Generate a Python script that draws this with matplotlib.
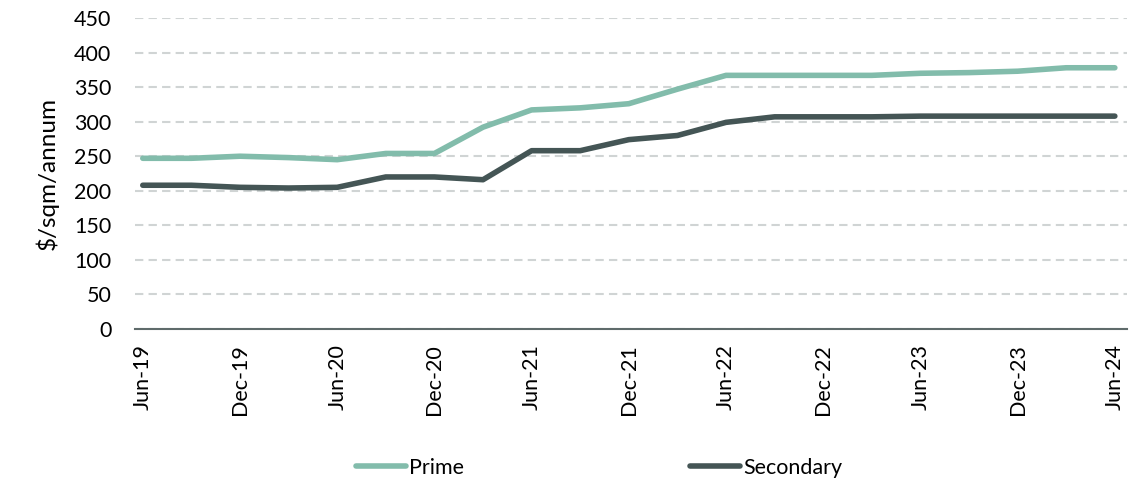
import matplotlib
matplotlib.use("Agg")
import matplotlib.pyplot as plt

plt.rcParams['font.family'] = ['Lato', 'DejaVu Sans']

# quarterly, Jun-19 .. Jun-24
quarters = ['Jun-19', 'Sep-19', 'Dec-19', 'Mar-20', 'Jun-20', 'Sep-20', 'Dec-20',
            'Mar-21', 'Jun-21', 'Sep-21', 'Dec-21', 'Mar-22', 'Jun-22', 'Sep-22',
            'Dec-22', 'Mar-23', 'Jun-23', 'Sep-23', 'Dec-23', 'Mar-24', 'Jun-24']
prime = [247, 247, 250, 248, 245, 254, 254, 292, 317, 320, 326, 347, 367, 367,
         367, 367, 370, 371, 373, 378, 378]
secondary = [208, 208, 205, 204, 205, 220, 220, 216, 258, 258, 274, 280, 299, 307,
             307, 307, 308, 308, 308, 308, 308]
yticks = [0, 50, 100, 150, 200, 250, 300, 350, 400, 450]

x = list(range(len(quarters)))

fig = plt.figure(figsize=(11.48, 4.82), dpi=100)
ax = fig.add_axes([135/1148, 1 - 329/482, (1127-135)/1148, (329-18)/482])

ax.plot(x, prime, color='#82bcab', lw=4, solid_capstyle='round', label='Prime', zorder=3)
ax.plot(x, secondary, color='#445555', lw=4, solid_capstyle='round', label='Secondary', zorder=3)

ax.set_ylim(0, 450)
ax.set_xlim(-0.16, 20.25)
ax.set_yticks(yticks)
ax.set_xticks(x[::2])
ax.set_xticklabels(quarters[::2], rotation=90, fontsize=15.5)
ax.tick_params(axis='y', labelsize=15.5, length=0, pad=17)
ax.tick_params(axis='x', length=0, pad=11)

ax.yaxis.grid(True, color='#d0d4d4', ls=(0, (4, 2.5)), lw=1.5)
ax.set_axisbelow(True)
for s in ['top', 'right', 'left']:
    ax.spines[s].set_visible(False)
ax.spines['bottom'].set_color('#5f6b6b')
ax.spines['bottom'].set_linewidth(1.5)

ax.set_ylabel('$/sqm/annum', fontsize=17.5, labelpad=11)

fig.legend(loc='center', bbox_to_anchor=(0.522, 0.03), ncol=2, frameon=False,
           fontsize=15.5, handlelength=2.3, handletextpad=0.15, columnspacing=10.5)

fig.savefig('out.png', dpi=100)
